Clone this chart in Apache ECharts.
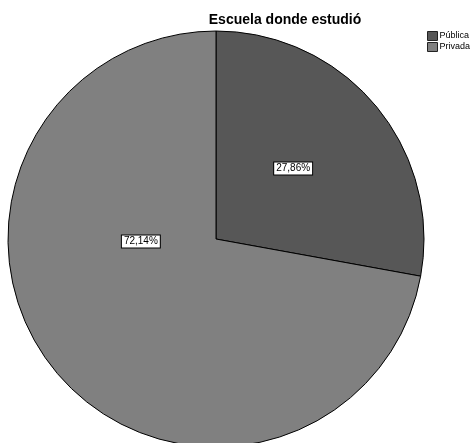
<!DOCTYPE html>
<html><head><meta charset="utf-8">
<script src="https://cdn.jsdelivr.net/npm/echarts@6/dist/echarts.min.js"></script>
<style>html,body{margin:0;padding:0;background:#fff}#c{width:473px;height:443px}</style>
</head><body><div id="c"></div>
<script>
const categories = ['Pública', 'Privada'];
const values = [27.86, 72.14];
const colors = ['#575757', '#808080'];
const labelOffsets = [[-5, -2], [7, -66]];

const chart = echarts.init(document.getElementById('c'), null, {renderer: 'canvas'});
chart.setOption({
  animation: false,
  backgroundColor: '#fff',
  title: {
    text: 'Escuela donde estudió',
    left: 280, top: 8, textAlign: 'center',
    textStyle: {fontFamily: 'Liberation Sans, Arial, sans-serif', fontSize: 14, fontWeight: 'bold', color: '#000'}
  },
  legend: {
    orient: 'vertical', left: 427, top: 31, itemWidth: 10, itemHeight: 9, itemGap: 1, padding: 0,
    icon: 'rect',
    itemStyle: {borderColor: '#222', borderWidth: 1},
    textStyle: {fontFamily: '"Liberation Sans Narrow", "Liberation Sans", Arial, sans-serif', fontSize: 9, color: '#000', padding: [0, 0, 0, -3]},
    data: categories
  },
  series: [{
    type: 'pie',
    center: [216, 239],
    radius: 208,
    startAngle: 90,
    clockwise: true,
    silent: true,
    emphasis: {disabled: true},
    itemStyle: {borderColor: '#000', borderWidth: 1},
    label: {
      show: true, position: 'inside',
      formatter: p => p.value.toFixed(2).replace('.', ',') + '%',
      fontFamily: 'Liberation Sans, Arial, sans-serif', fontSize: 10, color: '#000',
      backgroundColor: '#fff', borderColor: '#000', borderWidth: 1, padding: [1, 2, 1, 2]
    },
    labelLine: {show: false},
    data: categories.map((n, i) => ({
      name: n, value: values[i],
      itemStyle: {color: colors[i]},
      label: {offset: labelOffsets[i]}
    }))
  }]
});
</script></body></html>
